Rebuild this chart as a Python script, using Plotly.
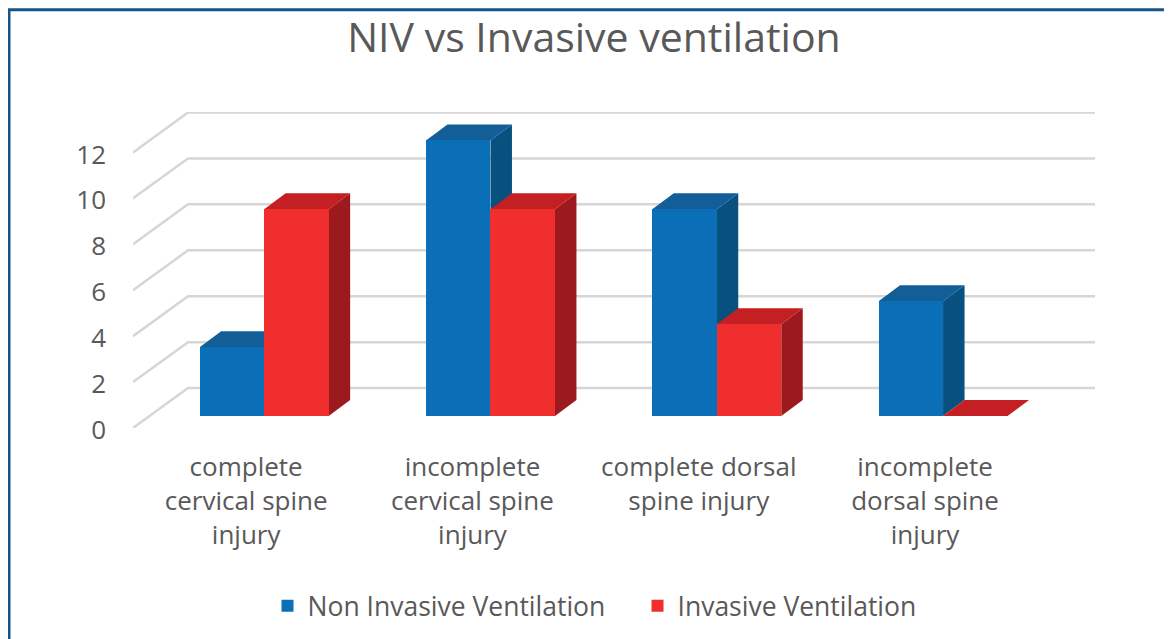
import plotly.graph_objects as go

# ---- data
categories = ["complete<br>cervical spine<br>injury", "incomplete<br>cervical spine<br>injury",
              "complete dorsal<br>spine injury", "incomplete<br>dorsal spine<br>injury"]
niv_values = [3, 12, 9, 5]
invasive_values = [9, 9, 4, 0]
value_ticks = [0, 2, 4, 6, 8, 10, 12]
series_names = ["Non Invasive Ventilation", "Invasive Ventilation"]
chart_title = "NIV vs Invasive ventilation"

# ---- geometry: the page puts the figure 8px in from the window's corner
OFF = 8
W, H = 1172 - OFF, 639 - OFF
L, R, T, B = 133 - OFF, 1095 - OFF, 112 - OFF, 428.5 - OFF
PX_X, PX_Y = 226.3, 23.0
X0 = -0.5
X1 = X0 + (R - L) / PX_X
Y1 = (B - T) / PX_Y
wall_dx, wall_dy = 55 / PX_X, 40 / PX_Y      # depth of the back wall
bar_dx, bar_dy = 21.5 / PX_X, 16 / PX_Y      # depth of a bar
floor_lift = 12 / PX_Y                       # bars stand inside the floor
bar_shift = 18 / PX_X
bar_w = 64.5 / PX_X

TEXT = "#595959"
GRID = "#d6d6d6"
BLUE, BLUE_TOP, BLUE_SIDE = "#0b6fb8", "#115e98", "#07507f"
RED, RED_TOP, RED_SIDE = "#f02e2e", "#c41f23", "#9c1a1d"

positions = list(range(len(categories)))


def poly(points, color):
    path = "M" + " L".join(f"{x:.5f},{y:.5f}" for x, y in points) + " Z"
    return dict(type="path", path=path, xref="x", yref="y", layer="below",
                fillcolor=color, line=dict(width=0))


shapes = []
# wall grid lines: diagonal on the side wall, then across the back wall
for t in value_ticks:
    xa, xb, xc = X0, X0 + wall_dx, X1
    ya, yb = t, t + wall_dy
    path = f"M{xa:.5f},{ya:.5f} L{xb:.5f},{yb:.5f} L{xc:.5f},{yb:.5f}"
    shapes.append(dict(type="path", path=path, xref="x", yref="y", layer="below",
                       line=dict(color=GRID, width=2.5)))


def faces(values, left, top_col, side_col):
    out = []
    for p, v in zip(positions, values):
        a = p + left
        b = a + bar_w
        lo = floor_lift
        hi = lo + v
        if v > 0:
            out.append(poly([(b, lo), (b + bar_dx, lo + bar_dy), (b + bar_dx, hi + bar_dy), (b, hi)], side_col))
        out.append(poly([(a, hi), (a + bar_dx, hi + bar_dy), (b + bar_dx, hi + bar_dy), (b, hi)], top_col))
    return out


shapes += faces(niv_values, bar_shift - bar_w, BLUE_TOP, BLUE_SIDE)
shapes += faces(invasive_values, bar_shift, RED_TOP, RED_SIDE)

# chart frame: only its top and left edges fall inside the page
pw, ph = R - L, B - T
shapes.append(dict(type="rect", xref="paper", yref="paper", layer="above",
                   x0=(1 - L) / pw, x1=(W + 20 - L) / pw,
                   y0=(B - 660) / ph, y1=(B - 1.5) / ph,
                   line=dict(color="#15568a", width=3), fillcolor="rgba(0,0,0,0)"))

fig = go.Figure()
fig.add_trace(go.Bar(name=series_names[0], x=positions, y=niv_values, base=floor_lift,
                     width=bar_w, offset=bar_shift - bar_w,
                     marker=dict(color=BLUE, line=dict(width=0))))
fig.add_trace(go.Bar(name=series_names[1], x=positions, y=invasive_values, base=floor_lift,
                     width=bar_w, offset=bar_shift,
                     marker=dict(color=RED, line=dict(width=0))))

fig.update_layout(
    width=W, height=H, autosize=False,
    margin=dict(l=L, r=W - R, t=T, b=H - B, pad=0),
    paper_bgcolor="white", plot_bgcolor="white",
    barmode="overlay",
    font=dict(family="Open Sans, Noto Sans, sans-serif", color=TEXT, size=26),
    title=dict(text=chart_title, x=(594 - OFF) / W, xanchor="center", y=1 - (38 - OFF) / H, yanchor="middle",
               font=dict(size=41, color=TEXT)),
    shapes=shapes,
    xaxis=dict(range=[X0, X1], tickmode="array", tickvals=positions, ticktext=categories,
               showgrid=False, zeroline=False, showline=False, ticks="",
               ticklabelstandoff=21, tickangle=0, tickfont=dict(size=26, color=TEXT)),
    yaxis=dict(range=[0, Y1], tickmode="array", tickvals=value_ticks,
               showgrid=False, zeroline=False, showline=False, ticks="",
               ticklabelstandoff=26, ticklabelshift=2, tickfont=dict(size=26, color=TEXT)),
    legend=dict(orientation="h", x=(637.5 - OFF) / W, xanchor="center", xref="container",
                y=1 - (606 - OFF) / H, yanchor="middle", yref="container",
                font=dict(size=26.5, color=TEXT), traceorder="normal",
                entrywidth=325, entrywidthmode="pixels",
                bgcolor="rgba(0,0,0,0)"),
    bargap=0,
)

fig.write_html("out.html", config=dict(displayModeBar=False))
